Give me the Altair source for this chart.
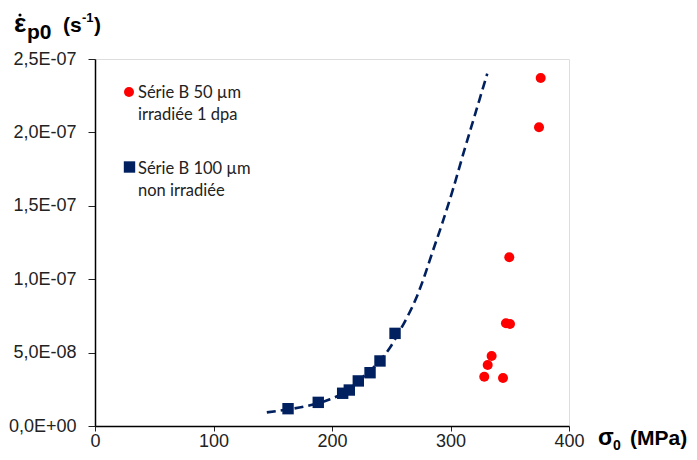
import altair as alt
import pandas as pd

# Série B 50 µm irradiée 1 dpa (red circles)
red_sigma = [376.1, 374.7, 349.6, 346.8, 350.2, 334.7, 331.4, 328.5, 344.3]
red_rate = [2.371e-7, 2.035e-7, 1.149e-7, 0.700e-7, 0.695e-7, 0.477e-7, 0.416e-7, 0.336e-7, 0.327e-7]

# Série B 100 µm non irradiée (navy squares)
blue_sigma = [162.9, 188.4, 209.0, 214.6, 222.2, 232.1, 240.5, 253.2]
blue_rate = [0.118e-7, 0.161e-7, 0.223e-7, 0.245e-7, 0.307e-7, 0.363e-7, 0.443e-7, 0.631e-7]

# dashed fit curve
fit_sigma = [145, 162, 178.6, 198.3, 212, 226.4, 240, 249, 257, 264, 271, 278, 285, 293, 302, 311, 321, 331]
fit_rate = [0.093e-7, 0.112e-7, 0.136e-7, 0.182e-7, 0.235e-7, 0.336e-7, 0.44e-7, 0.535e-7, 0.645e-7,
            0.75e-7, 0.87e-7, 1.02e-7, 1.19e-7, 1.38e-7, 1.61e-7, 1.86e-7, 2.13e-7, 2.40e-7]

x_ticks = [0, 100, 200, 300, 400]
y_ticks = [0, 5e-8, 1e-7, 1.5e-7, 2e-7, 2.5e-7]
y_tick_labels = ["0,0E+00", "5,0E-08", "1,0E-07", "1,5E-07", "2,0E-07", "2,5E-07"]

legend_red = ["Série B 50 µm", "irradiée 1 dpa"]
legend_blue = ["Série B 100 µm", "non irradiée"]

NAVY = "#002060"
RED = "#FF0000"
AXIS_FONT = "Liberation Sans"
LEG_FONT = "Lato"

red_df = pd.DataFrame({"sigma": red_sigma, "rate": red_rate})
blue_df = pd.DataFrame({"sigma": blue_sigma, "rate": blue_rate})
fit_df = pd.DataFrame({"sigma": fit_sigma, "rate": fit_rate})

label_expr = "[" + ",".join("'%s'" % s for s in y_tick_labels) + "][round(datum.value / 5e-8)]"

xscale = alt.Scale(domain=[0, 400], nice=False, zero=False)
yscale = alt.Scale(domain=[0, 2.5e-7], nice=False)

xaxis = alt.Axis(values=x_ticks, title=None, grid=False, labelFont=AXIS_FONT, labelFontSize=18,
                 labelColor="#222222", tickSize=5, tickColor="#222222", domainColor="#000000",
                 domainWidth=1.5, labelPadding=1, labelFlush=False)
yaxis = alt.Axis(values=y_ticks, title=None, grid=False, labelFont=AXIS_FONT, labelFontSize=18,
                 labelColor="#222222", tickSize=7, tickColor="#222222", domainColor="#000000",
                 domainWidth=1.5, labelPadding=12, labelExpr=label_expr, labelFlush=False)

fit = alt.Chart(fit_df).mark_line(color=NAVY, strokeWidth=2.6, strokeDash=[9, 5], interpolate="monotone").encode(
    x=alt.X("sigma:Q", scale=xscale, axis=xaxis),
    y=alt.Y("rate:Q", scale=yscale, axis=yaxis),
)
blue = alt.Chart(blue_df).mark_point(shape="square", filled=True, color=NAVY, size=130, opacity=1).encode(
    x=alt.X("sigma:Q", scale=xscale),
    y=alt.Y("rate:Q", scale=yscale),
)
red = alt.Chart(red_df).mark_point(shape="circle", filled=True, color=RED, size=100, opacity=1).encode(
    x=alt.X("sigma:Q", scale=xscale),
    y=alt.Y("rate:Q", scale=yscale),
)

one = pd.DataFrame({"k": [0]})

def txt(s, x, y, size, bold=False, font=AXIS_FONT, color="#000000", align="left"):
    return alt.Chart(one).mark_text(text=s, font=font, fontSize=size, fontWeight="bold" if bold else "normal",
                                    color=color, align=align, baseline="alphabetic").encode(
        x=alt.value(x), y=alt.value(y))

# legend (manual)
leg_red_sym = alt.Chart(one).mark_point(shape="circle", filled=True, color=RED, size=100, opacity=1).encode(
    x=alt.value(34), y=alt.value(33))
leg_blue_sym = alt.Chart(one).mark_point(shape="square", filled=True, color=NAVY, size=130, opacity=1).encode(
    x=alt.value(34.5), y=alt.value(108))
leg_texts = [
    txt(legend_red[0], 43, 38.5, 16.5, font=LEG_FONT, color="#222222"),
    txt(legend_red[1], 43, 60.5, 16.5, font=LEG_FONT, color="#222222"),
    txt(legend_blue[0], 43, 114.5, 16.5, font=LEG_FONT, color="#222222"),
    txt(legend_blue[1], 43, 136.5, 16.5, font=LEG_FONT, color="#222222"),
]

# dot over epsilon
eps_dot = alt.Chart(one).mark_point(shape="circle", filled=True, color="#000000", size=10, opacity=1).encode(
    x=alt.value(-75), y=alt.value(-44))

# axis titles
titles = [
    txt("ε", -81, -27, 26, bold=True),
    txt("p0", -68, -20, 21, bold=True),
    txt("(s", -32, -27, 21, bold=True),
    txt("-1", -13, -37, 13, bold=True),
    txt(")", -1, -27, 21, bold=True),
    txt("σ", 503, 386, 23, bold=True),
    txt("0", 518, 391, 14, bold=True),
    txt("(MPa)", 535, 386, 21, bold=True),
]

chart = alt.layer(fit, blue, red, leg_red_sym, leg_blue_sym, *leg_texts, eps_dot, *titles).properties(
    width=474, height=367,
    autosize=alt.AutoSizeParams(type="none"),
    padding={"left": 87, "top": 51, "right": 120, "bottom": 26},
).configure_view(stroke="#555555", strokeWidth=1.5).configure(background="#ffffff")

chart.save("out.html", embed_options={"renderer": "svg", "actions": False})
